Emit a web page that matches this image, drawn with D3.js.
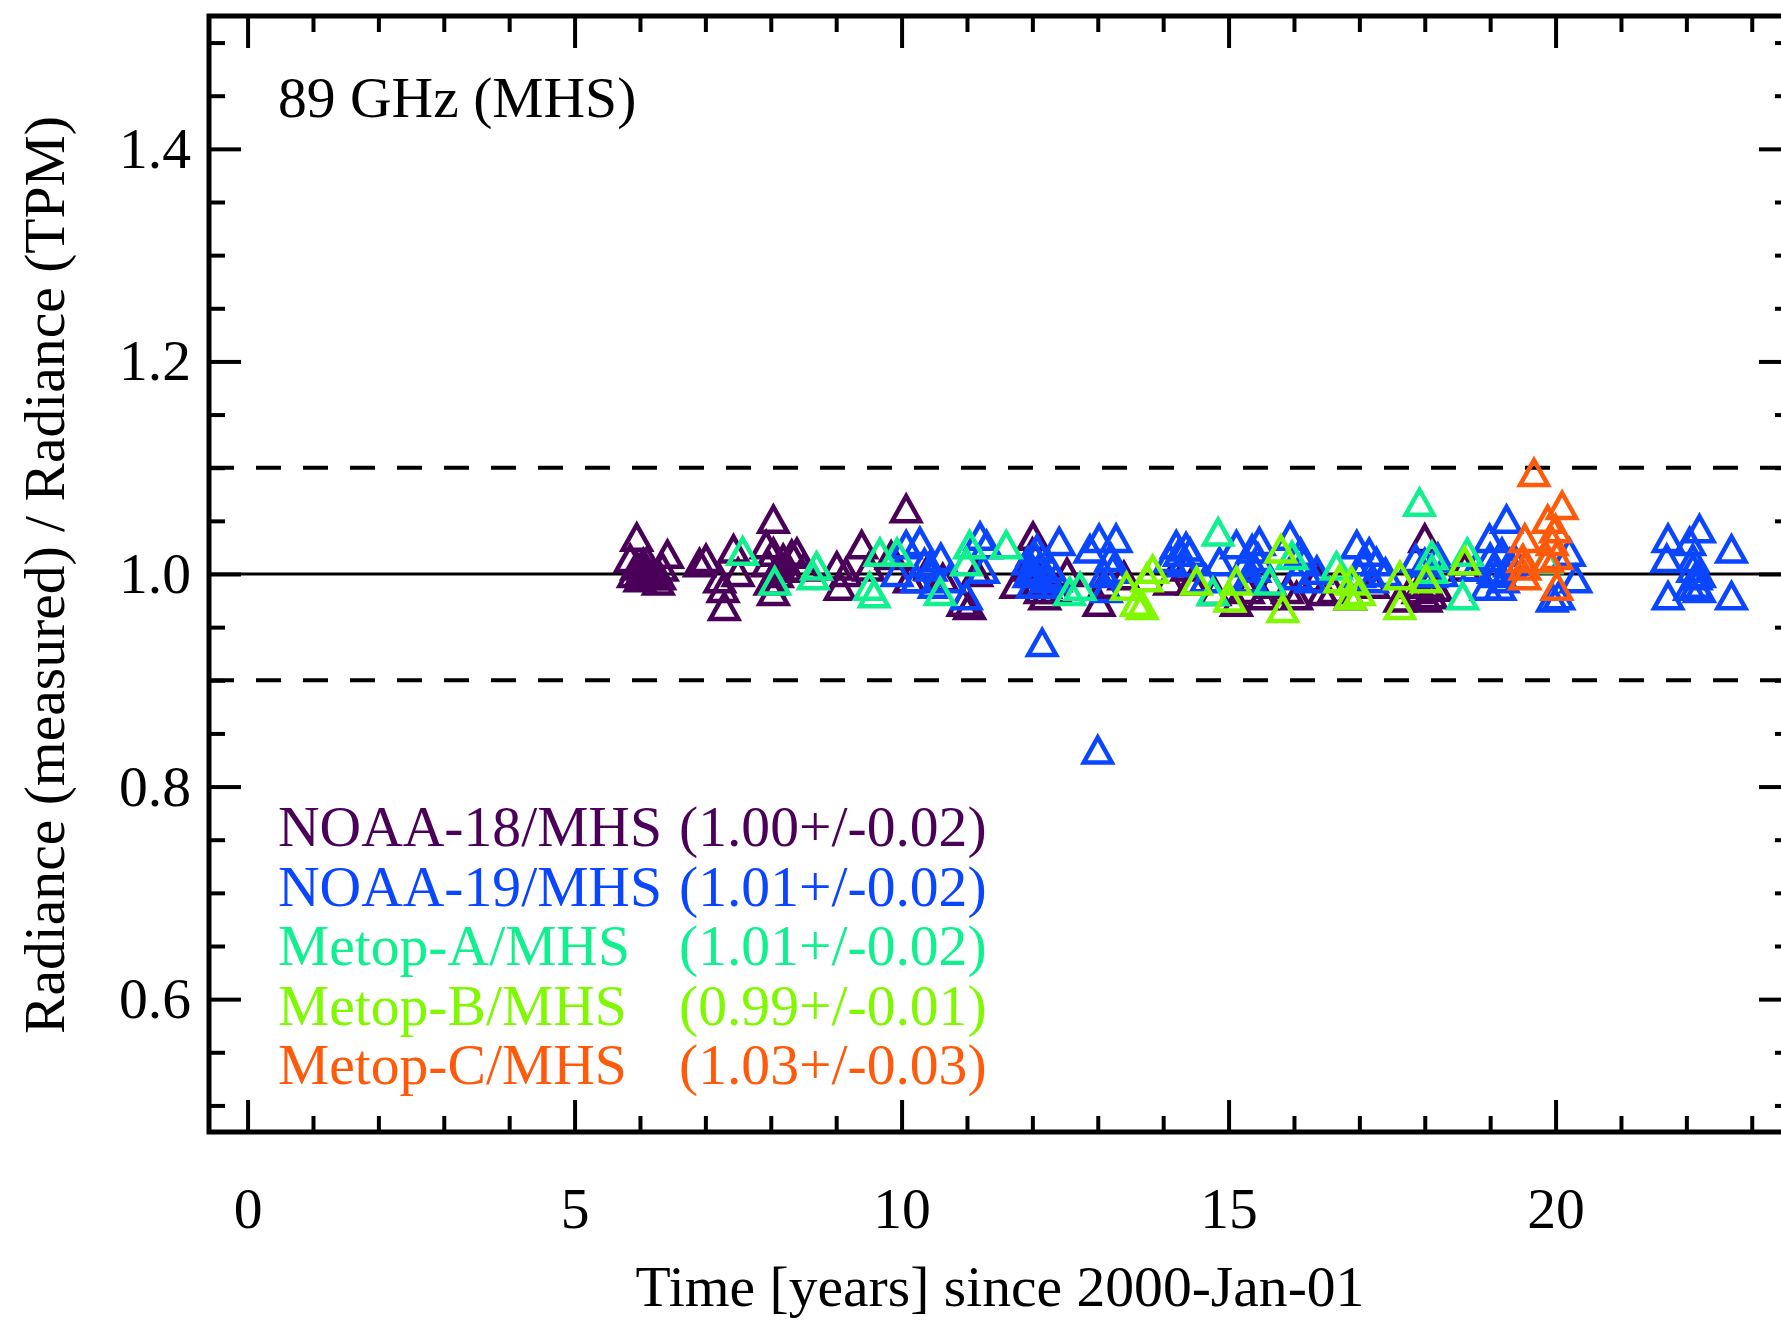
<!DOCTYPE html>
<html>
<head>
<meta charset="utf-8">
<script src="https://cdn.jsdelivr.net/npm/d3@7.9.0/dist/d3.min.js"></script>
<style>
  html, body { margin: 0; padding: 0; background: #fff; }
  svg { display: block; }
  text { font-family: "Liberation Serif", "Times New Roman", serif; }
</style>
</head>
<body>
<div id="chart"></div>
<script>
// [years since 2000-01-01, radiance ratio measured/TPM]
const noaa18 = [
  [5.95,1.034],[5.85,1.014],[5.95,1.007],[6.04,1.004],[6.15,0.998],[6.28,0.993],[6.42,1.018],
  [6.34,1.006],[6.11,1.012],[5.90,1.000],[6.00,0.996],[6.20,1.002],[6.05,1.010],[6.30,0.998],
  [6.91,1.010],[7.01,1.014],[7.22,0.995],[7.27,0.986],[7.29,0.969],
  [7.43,1.023],[7.50,1.001],[8.04,1.051],[7.93,1.027],[8.04,1.020],[8.19,1.014],[8.32,1.018],
  [7.99,0.993],[8.04,0.983],[8.11,1.006],[8.10,1.000],[8.25,1.005],[7.95,1.010],
  [8.40,1.020],[8.51,1.006],[9.01,1.007],[9.06,0.988],
  [9.15,1.001],[9.39,1.027],[9.50,1.006],[9.84,1.017],[10.07,1.061],[10.12,0.995],[10.43,1.007],
  [10.63,0.996],[10.94,0.973],[11.04,0.970],[11.15,1.001],[11.75,0.990],[11.93,1.006],[12.01,1.035],
  [12.00,1.020],[12.05,1.000],[12.12,0.985],[12.20,0.990],
  [12.10,0.994],[12.19,0.979],[12.36,0.985],[12.53,1.001],[13.02,0.973],[13.09,0.990],[13.40,0.998],
  [14.10,0.993],[14.36,1.006],[14.44,0.993],[14.79,0.983],[15.12,0.973],[15.30,0.985],[15.52,0.979],
  [15.66,0.990],[15.90,0.985],[16.04,0.979],[16.35,0.996],[16.44,0.983],[16.60,0.985],[16.86,0.979],
  [17.22,0.990],[17.62,0.977],[17.83,0.990],[17.90,0.985],[18.05,0.990],[18.10,0.980],
  [18.00,1.033],[18.02,0.977],[18.18,0.987],[18.61,1.006]
];
const noaa19 = [
  [10.07,1.027],[10.28,1.030],[9.93,1.001],[10.23,0.995],[10.45,1.006],[10.73,0.995],[10.99,0.979],
  [10.35,1.010],[10.50,0.990],[10.60,1.015],
  [11.20,1.035],[11.25,1.004],[11.30,1.027],[12.07,1.023],[11.93,1.012],[12.01,1.001],[12.15,0.990],
  [11.95,1.000],[12.05,1.015],[12.10,1.005],[12.20,1.000],[12.25,0.995],[12.00,0.990],
  [12.27,1.006],[12.36,0.996],[12.41,1.030],[12.15,0.935],[12.88,1.023],[13.02,1.033],[13.00,0.834],
  [13.28,1.033],[13.23,1.004],[13.13,0.986],[13.10,1.000],[13.20,1.015],
  [14.10,1.014],[14.20,1.027],[14.25,1.020],[14.41,1.020],[14.30,1.010],[14.35,1.025],
  [14.65,0.995],[14.86,1.011],[15.12,1.027],[15.28,0.995],[15.36,1.023],[15.47,1.030],[15.94,1.035],
  [15.25,1.010],[15.40,1.005],[15.45,1.015],[15.35,0.995],
  [16.04,0.998],[16.15,1.011],[16.35,1.003],[16.10,1.020],[16.25,0.995],
  [16.96,1.027],[17.05,1.011],[17.26,1.011],[17.40,1.001],[17.00,1.000],[17.15,1.020],[17.20,0.995],
  [17.86,1.014],[18.00,1.010],[18.10,1.000],[18.20,1.015],[18.26,1.001],
  [18.78,1.006],[18.99,1.033],[19.25,1.051],[19.05,1.004],[19.18,1.020],
  [18.94,0.988],[19.15,0.988],[19.39,1.012],[19.00,1.015],[19.10,1.000],[19.30,1.010],[19.20,0.995],
  [19.95,0.977],[20.21,1.020],[20.31,0.995],[20.05,0.979],
  [21.72,1.033],[21.70,1.014],[21.72,0.979],[22.20,1.042],[22.05,1.030],[22.10,1.014],[22.15,0.998],
  [22.05,0.988],[22.20,0.986],[22.10,1.005],[22.20,1.000],[22.15,0.990],[22.69,1.023],[22.69,0.979]
];
const metopA = [
  [7.57,1.021],[8.06,0.993],[8.70,1.007],[8.65,0.998],[9.67,1.020],[9.93,1.020],[9.51,0.988],
  [9.58,0.981],[10.59,0.983],[11.04,1.027],[10.99,1.011],[11.60,1.027],[12.57,0.983],[12.73,0.988],
  [14.84,1.039],[14.76,0.983],[15.63,0.993],[15.97,1.017],[16.65,1.007],[17.92,1.067],[18.11,1.017],
  [18.11,1.004],[18.65,1.020],[18.58,0.979],[19.86,1.013]
];
const metopB = [
  [13.44,0.988],[13.59,0.973],[13.68,0.970],[13.84,1.004],[13.75,0.996],[14.51,0.993],[15.02,0.977],
  [15.12,0.993],[15.83,0.967],[15.80,1.023],[16.70,0.995],[16.86,0.979],[16.88,0.993],[17.00,0.983],
  [17.62,0.998],[17.62,0.970],[18.02,0.995],[18.61,1.012]
];
const metopC = [
  [19.67,1.095],[20.10,1.064],[19.88,1.051],[20.00,1.042],[19.53,1.033],[19.95,1.030],[19.50,1.014],
  [19.53,1.007],[19.88,1.014],[19.53,0.998],[20.02,1.017],[20.02,0.988]
];

const seriesNames = ['NOAA-18/MHS', 'NOAA-19/MHS', 'Metop-A/MHS', 'Metop-B/MHS', 'Metop-C/MHS'];
const seriesStats = ['(1.00+/-0.02)', '(1.01+/-0.02)', '(1.01+/-0.02)', '(0.99+/-0.01)', '(1.03+/-0.03)'];
const seriesColors = ['#4a0058', '#0a46ff', '#10f08e', '#80f800', '#ff5a0a'];
const seriesData = [noaa18, noaa19, metopA, metopB, metopC];

const xMajor = [0, 5, 10, 15, 20];
const yMajor = [0.6, 0.8, 1.0, 1.2, 1.4];
const refLines = [0.9, 1.1];

const W = 1781, H = 1320;
const m = {left: 209, right: 1791, top: 16, bottom: 1132};
const FS = '57.6px';

const svg = d3.select('#chart').append('svg')
  .attr('width', W).attr('height', H);

const x = d3.scaleLinear().domain([-0.59, 23.6]).range([m.left, m.right]);
const y = d3.scaleLinear().domain([0.475, 1.525]).range([m.bottom, m.top]);

const xMinor = d3.range(0, 24).filter(d => d % 5 !== 0);
const yMinor = d3.range(10, 31).map(d => d * 0.05).filter(d => Math.round(d * 100) % 20 !== 0);

// reference lines
svg.append('line')
  .attr('x1', m.left).attr('x2', m.right)
  .attr('y1', y(1)).attr('y2', y(1))
  .attr('stroke', '#000').attr('stroke-width', 3);

svg.selectAll('line.ref').data(refLines).join('line')
  .attr('class', 'ref')
  .attr('x1', m.left).attr('x2', m.right)
  .attr('y1', d => y(d)).attr('y2', d => y(d))
  .attr('stroke', '#000').attr('stroke-width', 4)
  .attr('stroke-dasharray', '25,22');

// triangles
const tri = 'M0,-13L14,12L-14,12Z';
seriesData.forEach((pts, i) => {
  svg.append('g').selectAll('path').data(pts).join('path')
    .attr('d', tri)
    .attr('transform', d => `translate(${x(d[0])},${y(d[1])})`)
    .attr('fill', 'none')
    .attr('stroke', seriesColors[i])
    .attr('stroke-width', 4.5);
});

// axes
function styleAxis(g) {
  g.select('.domain').remove();
  g.selectAll('.tick line').attr('stroke', '#000').attr('stroke-width', 4);
  g.selectAll('text').attr('fill', '#000').style('font-size', FS);
}

svg.append('g').attr('transform', `translate(0,${m.bottom})`)
  .call(d3.axisBottom(x).tickValues(xMajor).tickSizeInner(-32).tickSizeOuter(0).tickPadding(55).tickFormat(d3.format('d')))
  .call(styleAxis);
svg.append('g').attr('transform', `translate(0,${m.bottom})`)
  .call(d3.axisBottom(x).tickValues(xMinor).tickSizeInner(-16).tickSizeOuter(0).tickFormat(''))
  .call(styleAxis);
svg.append('g').attr('transform', `translate(0,${m.top})`)
  .call(d3.axisTop(x).tickValues(xMajor).tickSizeInner(-32).tickSizeOuter(0).tickFormat(''))
  .call(styleAxis);
svg.append('g').attr('transform', `translate(0,${m.top})`)
  .call(d3.axisTop(x).tickValues(xMinor).tickSizeInner(-16).tickSizeOuter(0).tickFormat(''))
  .call(styleAxis);

svg.append('g').attr('transform', `translate(${m.left},0)`)
  .call(d3.axisLeft(y).tickValues(yMajor).tickSizeInner(-32).tickSizeOuter(0).tickPadding(18).tickFormat(d3.format('.1f')))
  .call(styleAxis);
svg.append('g').attr('transform', `translate(${m.left},0)`)
  .call(d3.axisLeft(y).tickValues(yMinor).tickSizeInner(-16).tickSizeOuter(0).tickFormat(''))
  .call(styleAxis);
svg.append('g').attr('transform', `translate(${m.right},0)`)
  .call(d3.axisRight(y).tickValues(yMajor).tickSizeInner(-32).tickSizeOuter(0).tickFormat(''))
  .call(styleAxis);
svg.append('g').attr('transform', `translate(${m.right},0)`)
  .call(d3.axisRight(y).tickValues(yMinor).tickSizeInner(-16).tickSizeOuter(0).tickFormat(''))
  .call(styleAxis);

// frame
svg.append('rect')
  .attr('x', m.left).attr('y', m.top)
  .attr('width', m.right - m.left).attr('height', m.bottom - m.top)
  .attr('fill', 'none').attr('stroke', '#000').attr('stroke-width', 5);

// labels
svg.append('text')
  .attr('x', 278).attr('y', 117)
  .style('font-size', FS)
  .text('89 GHz (MHS)');

svg.append('text')
  .attr('x', 1000).attr('y', 1306)
  .attr('text-anchor', 'middle')
  .style('font-size', FS)
  .text('Time [years] since 2000-Jan-01');

svg.append('text')
  .attr('transform', `translate(64,575) rotate(-90)`)
  .attr('text-anchor', 'middle')
  .style('font-size', FS)
  .text('Radiance (measured) / Radiance (TPM)');

// legend
const leg = svg.append('g');
leg.selectAll('text.name').data(seriesNames).join('text')
  .attr('class', 'name')
  .attr('x', 278).attr('y', (d, i) => 846 + i * 59.6)
  .attr('fill', (d, i) => seriesColors[i])
  .style('font-size', FS)
  .text(d => d);
leg.selectAll('text.stat').data(seriesStats).join('text')
  .attr('class', 'stat')
  .attr('x', 679).attr('y', (d, i) => 846 + i * 59.6)
  .attr('fill', (d, i) => seriesColors[i])
  .style('font-size', FS)
  .text(d => d);
</script>
</body>
</html>
